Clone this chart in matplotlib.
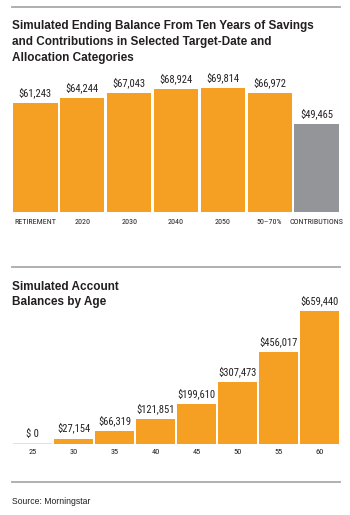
import matplotlib
matplotlib.use('Agg')
import matplotlib.pyplot as plt
from matplotlib import font_manager as fm

# data
cats = ['RETIREMENT', '2020', '2030', '2040', '2050', '50–70%', 'CONTRIBUTIONS']
balances = [61243, 64244, 67043, 68924, 69814, 66972, 49465]

ages = ['25', '30', '35', '40', '45', '50', '55', '60']
age_bal = [0, 27154, 66319, 121851, 199610, 307473, 456017, 659440]

W, H = 350, 515
orange = '#f6a023'
grey = '#939598'
rule = '#a7a9ac'
ink = '#231f20'
bold = ['Liberation Sans', 'DejaVu Sans']

# look for a narrow/condensed face for the numbers
narrow_file = None
for f in fm.fontManager.ttflist:
    n = (f.name + ' ' + f.fname).lower()
    cond = ('narrow' in n or 'condensed' in n or f.stretch in ('condensed', 'semi-condensed'))
    if cond and f.weight in (400, 'normal', 'regular') and f.style == 'normal':
        if narrow_file is None or 'liberation' in n or 'roboto' in n:
            narrow_file = f.fname
if narrow_file:
    NP = dict(fontproperties=fm.FontProperties(fname=narrow_file))
    scale = 1.0
else:
    NP = dict(family='DejaVu Sans')
    scale = 0.8

fig = plt.figure(figsize=(W/100, H/100), dpi=100)

def box(x0, y0, x1, y1):
    # pixel box (top-left origin) -> figure fraction
    return [x0/W, 1-y1/H, (x1-x0)/W, (y1-y0)/H]

def hrule(py):
    fig.add_artist(plt.Line2D([12/W, 340/W], [1-py/H, 1-py/H], color=rule, lw=1.3))

def fy(py):
    return 1-py/H

def ntext(t, size):
    # apply the narrow font to a text object
    if 'fontproperties' in NP:
        fp = NP['fontproperties'].copy()
        fp.set_size(size)
        t.set_fontproperties(fp)
    else:
        t.set_family(NP['family'])
        t.set_size(size*scale)

hrule(7)
for py, s in [(29.5, 'Simulated Ending Balance From Ten Years of Savings'),
              (45.5, 'and Contributions in Selected Target-Date and'),
              (61.5, 'Allocation Categories')]:
    fig.text(12/W, fy(py), s, family=bold, weight='bold', size=8.5, color=ink, va='baseline')

# top chart
ax = fig.add_axes(box(12, 80, 340, 212))
cols = [orange]*6 + [grey]
x = range(len(cats))
ax.bar(x, balances, width=0.945, color=cols)
for i, v in enumerate(balances):
    t = ax.annotate('${:,}'.format(v), (i, v), xytext=(0, 3.5), textcoords='offset points',
                    ha='center', va='bottom', color=ink)
    ntext(t, 7.6)
ax.set_xlim(-0.5, len(cats)-0.5)
ax.set_ylim(0, 132*561.9)
ax.set_xticks(list(x))
ax.set_xticklabels(cats, color=ink)
for t in ax.get_xticklabels():
    ntext(t, 5.8)
ax.tick_params(axis='x', length=0, pad=5)
ax.set_yticks([])
for s in ax.spines.values():
    s.set_visible(False)

hrule(267)
for py, s in [(289.5, 'Simulated Account'), (305.5, 'Balances by Age')]:
    fig.text(12/W, fy(py), s, family=bold, weight='bold', size=8.5, color=ink, va='baseline')

# bottom chart
ax2 = fig.add_axes(box(12, 300, 340, 444))
x2 = range(len(ages))
ax2.bar(x2, age_bal, width=0.955, color=orange)
ax2.plot([-0.48, 0.48], [0, 0], color='#fbd7a6', lw=1.2, solid_capstyle='butt')
for i, v in enumerate(age_bal):
    lab = '$ 0' if v == 0 else '${:,}'.format(v)
    t = ax2.annotate(lab, (i, v), xytext=(0, 3.5), textcoords='offset points',
                     ha='center', va='bottom', color=ink)
    ntext(t, 7.6)
ax2.set_xlim(-0.5, len(ages)-0.5)
ax2.set_ylim(0, 144*4947)
ax2.set_xticks(list(x2))
ax2.set_xticklabels(ages, color=ink)
for t in ax2.get_xticklabels():
    ntext(t, 6.0)
ax2.tick_params(axis='x', length=0, pad=3.5)
ax2.set_yticks([])
for s in ax2.spines.values():
    s.set_visible(False)

hrule(482)
fig.text(12/W, fy(503.5), 'Source: Morningstar', family=bold, size=6.2, color=ink, va='baseline')

fig.savefig('out.png', dpi=100)
